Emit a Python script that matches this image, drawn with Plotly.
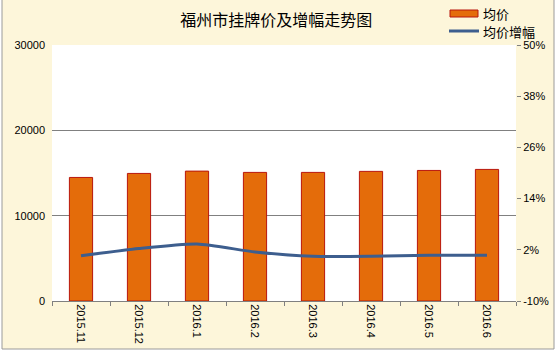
import plotly.graph_objects as go

categories = ["2015.11", "2015.12", "2016.1", "2016.2", "2016.3", "2016.4", "2016.5", "2016.6"]
avg_price = [14480, 14950, 15220, 15070, 15070, 15190, 15300, 15420]
growth_pct = [0.6, 2.3, 3.35, 1.5, 0.47, 0.47, 0.7, 0.7]
left_ticks = [0, 10000, 20000, 30000]
right_ticks = [-10, 2, 14, 26, 38, 50]
series_names = ["均价", "均价增幅"]

W, H = 556, 352
L, R, T, B = 52, 40, 45, 51
pw, ph = W - L - R, H - T - B

BAR_COLOR = "#E46C0A"
BAR_EDGE = "#B8160C"
LINE_COLOR = "#3D5E8E"

def px_x(px):
    return (px - L) / pw

def px_y(py):
    return (H - B - py) / ph

fig = go.Figure()
fig.add_trace(go.Bar(
    x=categories, y=avg_price, name=series_names[0],
    marker=dict(color=BAR_COLOR, line=dict(color=BAR_EDGE, width=1)),
    width=0.4, yaxis="y", showlegend=False,
))
fig.add_trace(go.Scatter(
    x=categories, y=growth_pct, name=series_names[1], mode="lines",
    line=dict(color=LINE_COLOR, width=3, shape="spline", smoothing=0.6),
    yaxis="y2", showlegend=False,
))

font_main = "Liberation Sans, Arial, sans-serif"
cjk = "Noto Sans CJK SC"

shapes = [
    dict(type="rect", xref="paper", yref="paper", layer="below",
         x0=px_x(2), x1=px_x(554), y0=px_y(349), y1=px_y(-2),
         fillcolor="#FDF6DA", line=dict(color="#9A9A9A", width=1)),
    dict(type="rect", xref="paper", yref="paper", layer="below",
         x0=0, x1=1, y0=0, y1=1, fillcolor="#FFFFFF", line=dict(width=0)),
    # custom legend
    dict(type="rect", xref="paper", yref="paper", layer="above",
         x0=px_x(450), x1=px_x(478), y0=px_y(17), y1=px_y(10),
         fillcolor=BAR_COLOR, line=dict(color=BAR_EDGE, width=1)),
    dict(type="line", xref="paper", yref="paper", layer="above",
         x0=px_x(449), x1=px_x(479), y0=px_y(31), y1=px_y(31),
         line=dict(color=LINE_COLOR, width=3)),
]
annotations = [
    dict(text=series_names[0], xref="paper", yref="paper", x=px_x(481), y=px_y(13),
         xanchor="left", yanchor="middle", showarrow=False,
         font=dict(family=cjk, size=13, color="#000000")),
    dict(text=series_names[1], xref="paper", yref="paper", x=px_x(481), y=px_y(31),
         xanchor="left", yanchor="middle", showarrow=False,
         font=dict(family=cjk, size=13, color="#000000")),
]

fig.update_layout(
    width=W, height=H,
    margin=dict(l=L, r=R, t=T, b=B, autoexpand=False),
    paper_bgcolor="#FFFFFF",
    plot_bgcolor="rgba(0,0,0,0)",
    font=dict(family=font_main, size=11, color="#000000"),
    title=dict(text="福州市挂牌价及增幅走势图", x=0.497, xref="container", xanchor="center",
               y=1 - 20 / H, yref="container", yanchor="middle",
               font=dict(family=cjk, size=16, color="#000000")),
    showlegend=False,
    xaxis=dict(type="category", showline=True, linecolor="#808080", linewidth=1,
               ticks="outside", tickson="boundaries", ticklen=4, tickcolor="#808080",
               tickangle=90, showgrid=False, tickfont=dict(size=11), automargin=False),
    yaxis=dict(range=[0, 30000], tickvals=left_ticks, ticktext=[str(v) for v in left_ticks],
               showgrid=True, gridcolor="#808080",
               gridwidth=1, zeroline=False, showline=False, ticks="", ticklabelstandoff=6,
               tickfont=dict(size=11), automargin=False),
    yaxis2=dict(range=[-10, 50], tickvals=right_ticks, ticktext=[f"{v}%" for v in right_ticks],
                overlaying="y", side="right", showgrid=False, zeroline=False,
                showline=False, ticks="outside", ticklen=4, tickcolor="#808080",
                tickfont=dict(size=11), automargin=False),
    shapes=shapes,
    annotations=annotations,
)

fig.write_html("out.html")
